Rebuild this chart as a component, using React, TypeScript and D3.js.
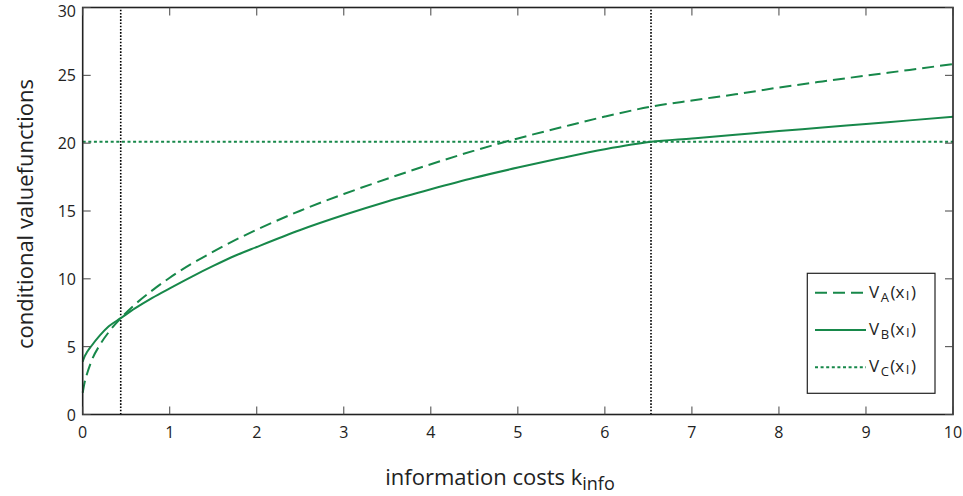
import React from "react";
import * as d3 from "d3";

// information cost grid and the conditional value functions read along it
const kInfo = [0, 0.02, 0.05, 0.1, 0.2, 0.3, 0.437, 0.6, 0.8, 1.0, 1.25, 1.5, 1.75, 2.0, 2.5, 3.0, 3.5, 4.0, 4.5, 5.0, 5.5, 6.0, 6.53, 7.0, 7.5, 8.0, 8.5, 9.0, 9.5, 10];
const valueA = [1.6, 2.3, 3.0, 3.93, 5.16, 6.08, 7.1, 8.11, 9.15, 10.08, 11.1, 12.0, 12.85, 13.62, 15.02, 16.25, 17.38, 18.45, 19.45, 20.35, 21.17, 21.96, 22.69, 23.15, 23.6, 24.1, 24.55, 24.98, 25.4, 25.83];
const valueB = [3.9, 4.25, 4.6, 5.05, 5.85, 6.5, 7.1, 7.82, 8.6, 9.3, 10.15, 10.95, 11.7, 12.35, 13.6, 14.7, 15.7, 16.6, 17.45, 18.2, 18.9, 19.55, 20.1, 20.35, 20.62, 20.9, 21.15, 21.42, 21.68, 21.95];
const valueC = 20.1;
const thresholds = [0.437, 6.53];

const xTicks = [0, 1, 2, 3, 4, 5, 6, 7, 8, 9, 10];
const yTicks = [0, 5, 10, 15, 20, 25, 30];

const GREEN = "#17884a";
const FONT = "'Open Sans', 'DejaVu Sans', sans-serif";

export default function App() {
  const W = 963, H = 496;
  const x = d3.scaleLinear().domain([0, 10]).range([82.7, 953]);
  const y = d3.scaleLinear().domain([0, 30]).range([414.5, 7.5]);
  const line = d3
    .line<[number, number]>()
    .x((d) => x(d[0]))
    .y((d) => y(d[1]))
    .curve(d3.curveMonotoneX);
  const ptsA = kInfo.map((k, i) => [k, valueA[i]] as [number, number]);
  const ptsB = kInfo.map((k, i) => [k, valueB[i]] as [number, number]);

  const [x0, x1] = x.range();
  const [y0, y1] = y.range();
  const tick = 8;

  const legendRows = [
    { sub: "A", dash: "12,6" },
    { sub: "B", dash: undefined as string | undefined },
    { sub: "C", dash: "3,2.6" },
  ];

  return (
    <svg
      width={W}
      height={H}
      style={{ position: "absolute", left: 0, top: 0, background: "#fff" }}
      fontFamily={FONT}
    >
      <rect x={0} y={0} width={W} height={H} fill="#fff" />

      {/* threshold markers */}
      {thresholds.map((t) => (
        <line
          key={t}
          x1={x(t)}
          x2={x(t)}
          y1={y0}
          y2={y1}
          stroke="#000"
          strokeWidth={1.6}
          strokeDasharray="1.6,1.6"
        />
      ))}

      {/* V_C */}
      <line
        x1={x0}
        x2={x1}
        y1={y(valueC)}
        y2={y(valueC)}
        stroke={GREEN}
        strokeWidth={2}
        strokeDasharray="3,2.6"
      />
      {/* V_B */}
      <path d={line(ptsB) ?? ""} fill="none" stroke={GREEN} strokeWidth={2} />
      {/* V_A */}
      <path
        d={line(ptsA) ?? ""}
        fill="none"
        stroke={GREEN}
        strokeWidth={2}
        strokeDasharray="12,6"
      />

      {/* frame and ticks */}
      <rect x={x0} y={y1} width={x1 - x0} height={y0 - y1} fill="none" stroke="#222" strokeWidth={1.6} />
      {xTicks.map((t) => (
        <g key={"x" + t}>
          <line x1={x(t)} x2={x(t)} y1={y0} y2={y0 - tick} stroke="#444" strokeWidth={1} />
          <line x1={x(t)} x2={x(t)} y1={y1} y2={y1 + tick} stroke="#444" strokeWidth={1} />
          <text x={x(t)} y={y0 + 23} textAnchor="middle" fontSize={16} fill="#222">
            {t}
          </text>
        </g>
      ))}
      {yTicks.map((t) => (
        <g key={"y" + t}>
          <line x1={x0} x2={x0 + tick} y1={y(t)} y2={y(t)} stroke="#444" strokeWidth={1} />
          <line x1={x1} x2={x1 - tick} y1={y(t)} y2={y(t)} stroke="#444" strokeWidth={1} />
          <text x={76} y={Math.max(y(t) + 6, 16.5)} textAnchor="end" fontSize={16} fill="#222">
            {t}
          </text>
        </g>
      ))}

      {/* axis titles */}
      <text x={500} y={485} textAnchor="middle" fontSize={22} fill="#222">
        information costs k
        <tspan fontSize={18} dy={5}>info</tspan>
      </text>
      <text
        transform={`translate(33, 214) rotate(-90)`}
        textAnchor="middle"
        fontSize={22}
        fill="#222"
      >
        conditional valuefunctions
      </text>

      {/* legend */}
      <rect x={807.3} y={273.3} width={127.7} height={120} fill="#fff" stroke="#222" strokeWidth={1.2} />
      {legendRows.map((r, i) => {
        const ly = 292.7 + i * 37.3;
        return (
          <g key={r.sub}>
            <line x1={815} x2={866} y1={ly} y2={ly} stroke={GREEN} strokeWidth={2} strokeDasharray={r.dash} />
            <text x={869} y={ly + 5} fontSize={17} fill="#222">
              V
              <tspan fontSize={13} dx={1.5} dy={4}>{r.sub}</tspan>
              <tspan dx={1.5} dy={-4}>(x</tspan>
              <tspan fontSize={13} dx={1.5} dy={2}>I</tspan>
              <tspan dx={1.5} dy={-2}>)</tspan>
            </text>
          </g>
        );
      })}
    </svg>
  );
}
